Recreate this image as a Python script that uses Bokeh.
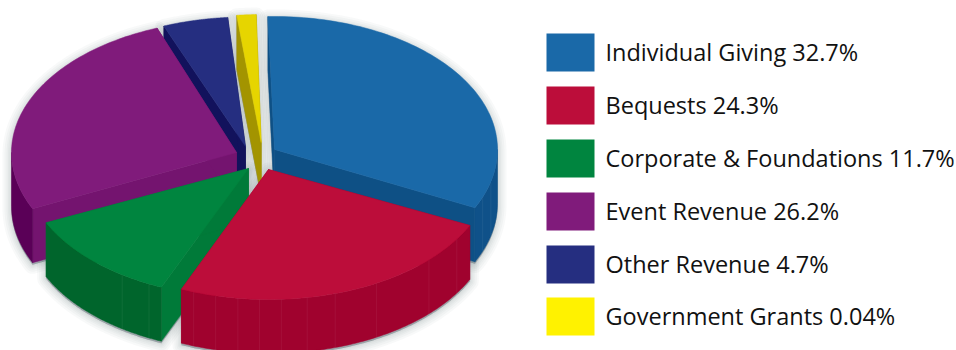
import numpy as np
from bokeh.core.properties import value
from bokeh.embed import file_html
from bokeh.models import Range1d
from bokeh.plotting import figure
from bokeh.resources import INLINE

# Revenue mix, percent of total
categories = ["Individual Giving", "Bequests", "Corporate & Foundations",
              "Event Revenue", "Other Revenue", "Government Grants"]
shares = [32.7, 24.3, 11.7, 26.2, 4.7, 0.04]

# Colours per slice: top face, cut wall, outer rim, legend swatch
top_colors = ["#1a69a8", "#bc0d3a", "#00853f", "#801b7b", "#252e80", "#e6d500"]
wall_colors = ["#0e5085", "#a5032f", "#007a39", "#74146f", "#12125c", "#a39400"]
rim_colors = ["#0f5189", "#a0022e", "#00652c", "#5a0057", "#12125c", "#a39400"]
swatch_colors = ["#1a69a8", "#bc0d3a", "#00853f", "#801b7b", "#252e80", "#fff200"]

# Pie layout: exploded apex of each slice, start bearing (clockwise from north),
# and the radii, which vary a little with perspective
apex_x = [274, 268, 248, 236, 245, 260.7]
apex_y = [149, 169, 168, 152, 146, 142]
start_deg = [-1.7, 115.5, 203.0, 245.0, 338.5, 353.7]
radius_x = [223, 223, 223, 225, 223, 223]
radius_y = [133, 130, 129, 133, 129.5, 128]
DEPTH = 54
MIN_SWEEP = 5.0  # a very small share still gets a readable sliver

# Faint seams along the rims, as bearings per slice
seams = {0: [104, 111], 1: [122.4, 134, 151, 162.6, 170, 176.7, 182.3, 187.9, 193.7, 199.6],
         2: [206.5, 214.5]}

# Draw order: back slices first
order = [4, 5, 0, 3, 2, 1]


def arc(i, a0, a1, n=90):
    th = np.radians(np.linspace(a0, a1, n))
    return apex_x[i] + radius_x[i] * np.sin(th), apex_y[i] - radius_y[i] * np.cos(th)


def hull(xs, ys):
    pts = sorted(set(zip(np.round(xs, 2).tolist(), np.round(ys, 2).tolist())))

    def half(seq):
        out = []
        for q in seq:
            while len(out) > 1 and (out[-1][0] - out[-2][0]) * (q[1] - out[-2][1]) - \
                    (out[-1][1] - out[-2][1]) * (q[0] - out[-2][0]) <= 0:
                out.pop()
            out.append(q)
        return out[:-1]

    h = half(pts) + half(pts[::-1])
    return [a for a, _ in h], [b for _, b in h]


p = figure(width=956, height=350, output_backend="svg", toolbar_location=None,
           x_range=Range1d(0, 956), y_range=Range1d(350, 0),
           min_border=0, outline_line_color=None, background_fill_color="white",
           border_fill_color="white")
p.axis.visible = False
p.grid.visible = False

sweeps = [max(s * 3.6, MIN_SWEEP) for s in shares]
ends = [a + s for a, s in zip(start_deg, sweeps)]

# Soft drop shadow under the whole pie, built from stacked translucent outlines
shadow_xs, shadow_ys = [], []
for i in order:
    ax, ay = arc(i, start_deg[i], ends[i])
    xs = np.r_[apex_x[i], ax, apex_x[i], ax]
    ys = np.r_[apex_y[i], ay, apex_y[i] + DEPTH, ay + DEPTH]
    hx, hy = hull(xs, ys)
    shadow_xs.append(hx)
    shadow_ys.append([v + 2 for v in hy])
for w in [18, 14, 10, 7, 4, 2]:
    p.patches(shadow_xs, shadow_ys, fill_color="#46505a", fill_alpha=0.08,
              line_color="#46505a", line_alpha=0.035, line_width=w, line_join="round")

for i in order:
    a0, a1 = start_deg[i], ends[i]
    ax, ay = arc(i, a0, a1)

    # Two radial cut walls
    for bx, by in [(ax[0], ay[0]), (ax[-1], ay[-1])]:
        p.patch([apex_x[i], bx, bx, apex_x[i]],
                [apex_y[i], by, by + DEPTH, apex_y[i] + DEPTH],
                fill_color=wall_colors[i], line_color=wall_colors[i], line_width=0.5)

    # Outer rim, only where it faces the viewer
    r0, r1 = max(a0, 90), min(a1, 270)
    if r1 > r0:
        rx_, ry_ = arc(i, r0, r1)
        p.patch(np.r_[rx_, rx_[::-1]], np.r_[ry_, ry_[::-1] + DEPTH],
                fill_color=rim_colors[i], line_color=rim_colors[i], line_width=0.5)
        for s in seams.get(i, []):
            sx, sy = arc(i, s, s, 1)
            p.line([sx[0], sx[0]], [sy[0], sy[0] + DEPTH], line_color="#ffffff",
                   line_alpha=0.06, line_width=1)

    # Top face
    p.patch(np.r_[apex_x[i], ax], np.r_[apex_y[i], ay],
            fill_color=top_colors[i], line_color=top_colors[i], line_width=0.5)

# Legend
legend_y = [52, 105, 158, 211, 264, 316]
labels = [f"{c} {s:g}%" for c, s in zip(categories, shares)]
p.rect(x=[570] * 6, y=legend_y, width=48, height=38, fill_color=swatch_colors, line_color=None)
p.text(x=[605] * 6, y=[v - 0.8 for v in legend_y], text=labels, text_font=value("Open Sans"),
       text_font_size="23.5px", text_color="#111111", text_baseline="middle", text_align="left")

open("out.html", "w").write(file_html(p, INLINE))
